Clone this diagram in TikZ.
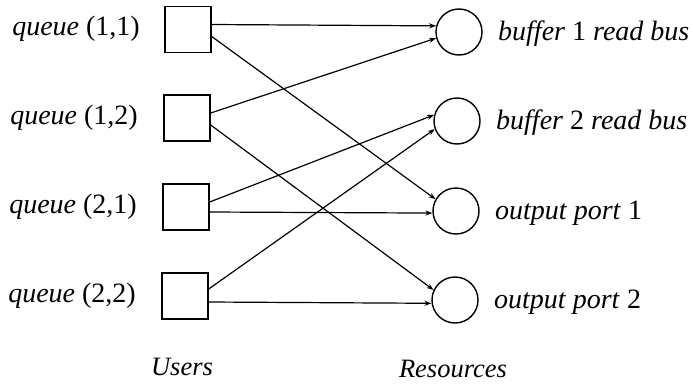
\documentclass[tikz,border=0pt]{standalone}
\usepackage{fontspec}
\setmainfont{Liberation Serif}
\usetikzlibrary{arrows.meta}
\begin{document}
\begin{tikzpicture}[x=1pt,y=-1pt,
  user/.style={draw,line width=1.4pt,minimum size=46pt,inner sep=0pt},
  res/.style={draw,circle,line width=1.4pt,minimum size=46pt,inner sep=0pt},
  lab/.style={inner sep=0pt,font=\fontsize{28}{32}\selectfont},
  title/.style={inner sep=0pt,font=\fontsize{26.5}{30}\selectfont},
  link/.style={line width=1.2pt,-{Stealth[length=7pt,width=5pt]}}]
\useasboundingbox (0,0) rectangle (693,383);
% users (queues)
\node[user] (q11) at (188,29.5) {};
\node[user] (q12) at (187,118) {};
\node[user] (q21) at (186,207) {};
\node[user] (q22) at (185,296) {};
% resources
\node[res] (r1) at (459,32) {};
\node[res] (r2) at (457,121) {};
\node[res] (r3) at (456,211) {};
\node[res] (r4) at (455,300) {};
% queue labels
\node[lab,anchor=base east] (l11) at (140,35.5) {\textit{queue} (1,1)};
\node[lab,anchor=base east] (l12) at (138,124) {\textit{queue} (1,2)};
\node[lab,anchor=base east] (l21) at (137,213) {\textit{queue} (2,1)};
\node[lab,anchor=base east] (l22) at (136,302) {\textit{queue} (2,2)};
% resource labels
\node[lab,anchor=base west] (t1) at (498,40) {\textit{buffer} 1 \textit{read bus}};
\node[lab,anchor=base west] (t2) at (496,129) {\textit{buffer} 2 \textit{read bus}};
\node[lab,anchor=base west] (t3) at (495,219) {\textit{output port} 1};
\node[lab,anchor=base west] (t4) at (494,308) {\textit{output port} 2};
% column titles
\node[title,anchor=base] (tu) at (182,375) {\textit{Users}};
\node[title,anchor=base] (tr) at (453,377) {\textit{Resources}};
% connections
\draw[link] ([yshift=5pt]q11.east) -- (r1.165);
\draw[link] ([yshift=-7pt]q11.east) -- (r3.150);
\draw[link] ([yshift=5pt]q12.east) -- (r1.195);
\draw[link] ([yshift=-7pt]q12.east) -- (r4.155);
\draw[link] ([yshift=5pt]q21.east) -- (r2.165);
\draw[link] ([yshift=-5pt]q21.east) -- (r3.185);
\draw[link] ([yshift=7pt]q22.east) -- (r2.200);
\draw[link] ([yshift=-6pt]q22.east) -- (r4.188);
\end{tikzpicture}
\end{document}
